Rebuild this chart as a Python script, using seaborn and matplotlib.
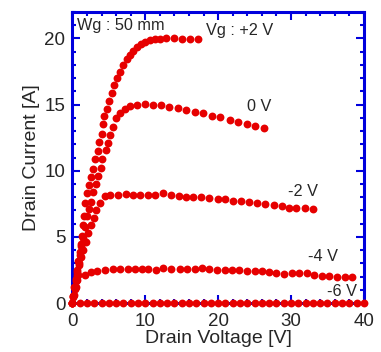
import numpy as np
import pandas as pd
import matplotlib
matplotlib.use("Agg")
import matplotlib.pyplot as plt
from matplotlib.ticker import MultipleLocator
import seaborn as sns

sns.set_style("ticks")
plt.rcParams['font.family'] = ['Liberation Sans', 'DejaVu Sans']

# I-V curves, one pair of lists per gate voltage
vd_p2 = [0.0, 0.12, 0.28, 0.45, 0.62, 0.8, 0.98, 1.15, 1.3, 1.42, 1.58, 1.76, 2.03, 2.3,
         2.58, 2.85, 3.13, 3.45, 3.68, 4.0, 4.22, 4.36, 4.77, 5.05, 5.37, 5.73, 6.14, 6.51,
         6.97, 7.43, 7.88, 8.34, 8.89, 9.44, 9.99, 10.6, 11.3, 12.0, 12.8, 13.9, 15.0, 16.1, 17.3]
id_p2 = [0.0, 0.55, 1.2, 1.85, 2.5, 3.2, 3.85, 4.5, 5.1, 5.9, 6.6, 7.6, 8.3, 8.9,
         9.52, 10.17, 10.9, 11.5, 12.17, 12.8, 13.5, 14.17, 14.7, 15.28, 15.89, 16.5, 17.02, 17.5,
         18.0, 18.46, 18.76, 19.07, 19.37, 19.57, 19.72, 19.85, 19.92, 19.95, 20.0, 20.0, 19.97, 19.95, 19.95]

vd_0 = [0.0, 0.12, 0.3, 0.48, 0.66, 0.85, 1.05, 1.25, 1.45, 1.68, 1.94, 2.3, 2.58, 2.85,
        3.18, 3.54, 3.86, 4.09, 4.6, 4.82, 5.23, 5.6, 5.96, 6.6, 7.2, 7.97, 8.8, 9.93,
        11.0, 12.1, 13.3, 14.5, 15.6, 16.8, 17.9, 19.1, 20.3, 21.6, 22.7, 23.9, 25.0, 26.3]
id_0 = [0.0, 0.45, 1.1, 1.7, 2.35, 3.0, 3.65, 4.3, 4.95, 5.75, 6.6, 7.1, 7.65, 8.36,
        9.0, 9.6, 10.2, 10.9, 11.54, 12.1, 12.73, 13.3, 14.0, 14.37, 14.67, 14.92, 15.0, 15.05,
        14.95, 14.98, 14.82, 14.72, 14.57, 14.47, 14.37, 14.17, 14.04, 13.81, 13.66, 13.54, 13.41, 13.2]

vd_m2 = [0.0, 0.15, 0.35, 0.62, 0.85, 1.17, 1.48, 1.85, 2.17, 2.6, 2.99, 3.3, 3.77, 4.45,
         5.1, 6.3, 7.4, 8.3, 9.3, 10.4, 11.3, 12.4, 13.5, 14.6, 15.6, 16.6, 17.7, 18.8,
         20.0, 21.0, 22.0, 23.2, 24.2, 25.3, 26.4, 27.6, 28.7, 29.7, 30.7, 31.9, 33.0]
id_m2 = [0.0, 0.5, 1.15, 2.1, 2.88, 3.46, 4.0, 4.64, 5.28, 5.9, 6.4, 7.05, 7.55, 8.1,
         8.2, 8.2, 8.22, 8.2, 8.2, 8.2, 8.18, 8.3, 8.2, 8.1, 8.05, 8.05, 8.0, 7.93,
         7.88, 7.85, 7.75, 7.68, 7.63, 7.6, 7.5, 7.42, 7.3, 7.17, 7.15, 7.15, 7.12]

vd_m4 = [0.0, 0.25, 0.45, 0.62, 0.8, 1.7, 2.5, 3.4, 4.46, 5.6, 6.5, 7.65, 8.57, 9.5,
         10.4, 11.45, 12.45, 13.6, 14.75, 15.75, 16.8, 17.8, 18.8, 19.9, 20.9, 21.9, 22.9, 23.9,
         25.0, 26.0, 27.0, 28.0, 29.0, 30.1, 31.1, 32.2, 33.1, 34.2, 35.2, 36.3, 37.4, 38.4]
id_m4 = [0.0, 0.6, 1.2, 1.75, 2.15, 2.15, 2.35, 2.45, 2.5, 2.55, 2.55, 2.55, 2.55, 2.55,
         2.55, 2.5, 2.63, 2.55, 2.55, 2.55, 2.58, 2.63, 2.55, 2.5, 2.5, 2.5, 2.5, 2.45,
         2.45, 2.45, 2.37, 2.25, 2.2, 2.25, 2.25, 2.3, 2.12, 2.05, 2.05, 2.0, 1.95, 1.95]

vd_m6 = [0.0, 1.0, 2.0, 3.0, 4.0, 5.0, 6.0, 7.0, 8.0, 9.0, 10.0, 11.0, 12.0, 13.0,
         14.0, 15.0, 16.0, 17.0, 18.0, 19.0, 20.0, 21.0, 22.0, 23.0, 24.0, 25.0, 26.0, 27.0,
         28.0, 29.0, 30.0, 31.0, 32.0, 33.0, 34.0, 35.0, 36.0, 37.0, 38.0, 39.0, 40.0]
id_m6 = [0.0] * len(vd_m6)

curves = {"+2 V": (vd_p2, id_p2), "0 V": (vd_0, id_0), "-2 V": (vd_m2, id_m2),
          "-4 V": (vd_m4, id_m4), "-6 V": (vd_m6, id_m6)}

df = pd.concat([pd.DataFrame({"Vd": v, "Id": i, "Vg": k}) for k, (v, i) in curves.items()],
               ignore_index=True)

blue = "#0000dd"
red = "#e60000"

fig = plt.figure(figsize=(3.81, 3.52), dpi=100)
ax = fig.add_axes([0.19, 0.139, 0.765, 0.827])

sns.scatterplot(data=df, x="Vd", y="Id", color=red, s=32, linewidth=0,
                ax=ax, legend=False, clip_on=False, zorder=5)

ax.set_xlim(0, 40)
ax.set_ylim(0, 22)
ax.xaxis.set_major_locator(MultipleLocator(10))
ax.xaxis.set_minor_locator(MultipleLocator(2))
ax.yaxis.set_major_locator(MultipleLocator(5))
ax.yaxis.set_minor_locator(MultipleLocator(1))
ax.tick_params(which="both", direction="in", top=True, right=True, color=blue,
               labelsize=13.5, width=1.5)
ax.tick_params(which="major", length=5.5)
ax.tick_params(which="minor", length=3)
ax.tick_params(axis="x", pad=7)
ax.tick_params(axis="y", pad=5)
for sp in ax.spines.values():
    sp.set_color(blue)
    sp.set_linewidth(2.2)

ax.set_xlabel("Drain Voltage [V]", fontsize=14, labelpad=0)
ax.set_ylabel("Drain Current [A]", fontsize=14, labelpad=3)

ax.text(0.7, 21.0, "Wg : 50 mm", fontsize=11.7, va="center")
ax.text(18.4, 20.6, "Vg : +2 V", fontsize=11.7, va="center")
ax.text(23.9, 14.85, "0 V", fontsize=11.7, va="center")
ax.text(29.6, 8.4, "-2 V", fontsize=11.7, va="center")
ax.text(32.4, 3.5, "-4 V", fontsize=11.7, va="center")
ax.text(35.0, 0.9, "-6 V", fontsize=11.7, va="center")

plt.savefig("out.png", dpi=100)
